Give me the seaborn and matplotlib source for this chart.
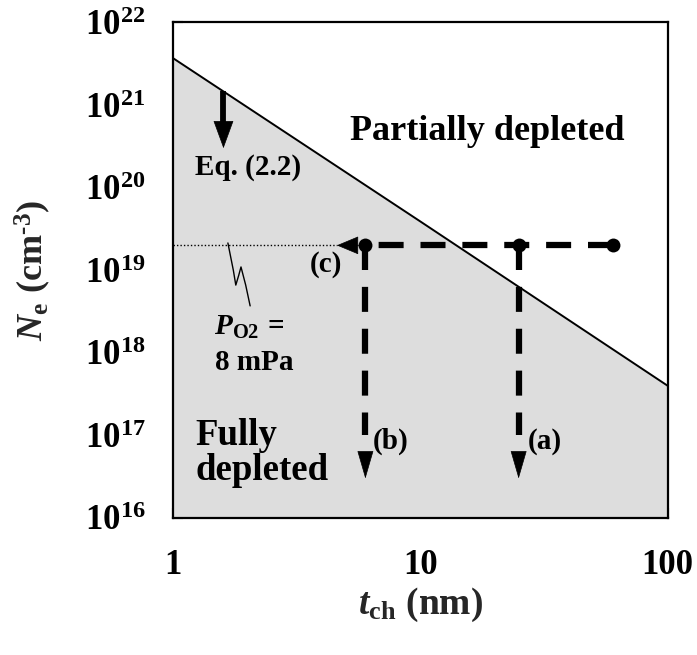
import matplotlib
matplotlib.use("Agg")
import matplotlib.pyplot as plt
import seaborn as sns
import numpy as np

# Boundary between fully and partially depleted channels, Eq. (2.2)
t_boundary = [1.0, 10.0, 100.0]          # channel thickness (nm)
ne_boundary = [3.7e21, 3.9e19, 4.0e17]   # carrier density (cm^-3)

# Carrier density at P_O2 = 8 mPa and the channel thicknesses examined
ne_level = 2e19
t_points = [6.0, 25.0, 60.0]
t_arrow_tip = 4.6          # end of arrow (c)
ne_arrow_tip = 3.0e16      # end of arrows (a) and (b)
ne_dash_end = 1.0e17
ne_head_base = 6.0e16
t_eq = 1.6                 # position of the Eq. (2.2) arrow
ne_eq_tip = 3.0e20
ne_eq_head_base = 6.2e20

x_ticks = [1, 10, 100]
x_ticklabels = ["1", "10", "100"]
y_ticks = [1e16, 1e17, 1e18, 1e19, 1e20, 1e21, 1e22]
y_ticklabels = [r"$\mathbf{10^{%d}}$" % e for e in range(16, 23)]

sns.set_style("ticks")
plt.rcParams["font.family"] = ["Liberation Serif", "DejaVu Serif"]
plt.rcParams["font.weight"] = "bold"
plt.rcParams["mathtext.fontset"] = "custom"
plt.rcParams["mathtext.rm"] = "Liberation Serif:bold"
plt.rcParams["mathtext.bf"] = "Liberation Serif:bold"
plt.rcParams["mathtext.it"] = "Liberation Serif:italic:bold"
plt.rcParams["mathtext.bfit"] = "Liberation Serif:italic:bold"

fig = plt.figure(figsize=(6.97, 6.55), dpi=100)
ax = fig.add_axes([0.2482, 0.2092, 0.7095, 0.7565])
ax.set_xscale("log")
ax.set_yscale("log")

# shaded fully-depleted region and its boundary
ax.fill_between(t_boundary, ne_boundary, 1e16, color="#dddddd", lw=0, zorder=1)
sns.lineplot(x=t_boundary, y=ne_boundary, color="black", lw=1.4, ax=ax,
             zorder=3, legend=False)

# dotted reference level up to arrow (c)
ax.plot([1.0, t_arrow_tip], [ne_level, ne_level], color="black", lw=1.0,
        ls=(0, (1, 1.5)), zorder=4)

lw_dash = 4.5
dash_pat = (0, (4.0, 2.7))
head = dict(color="black", lw=0.5, shrinkA=0, shrinkB=0, mutation_scale=20)
# horizontal dashed path from the thickest channel to the thinnest
ax.plot([t_points[-1], t_points[0]], [ne_level, ne_level], color="black",
        lw=lw_dash, ls=dash_pat, dash_capstyle="butt", zorder=5)
# vertical dashed drops (b) and (a)
for tp in t_points[:2]:
    ax.plot([tp, tp], [ne_level, ne_dash_end], color="black", lw=lw_dash,
            ls=dash_pat, dash_capstyle="butt", zorder=5)
    ax.annotate("", xy=(tp, ne_arrow_tip), xytext=(tp, ne_head_base),
                arrowprops=dict(arrowstyle="-|>,head_length=0.93,head_width=0.27",
                                **head), zorder=6)
sns.scatterplot(x=t_points, y=[ne_level] * len(t_points), color="black",
                s=100, edgecolor="black", linewidth=0, ax=ax, zorder=7,
                legend=False)
# arrow (c)
ax.annotate("", xy=(t_arrow_tip, ne_level), xytext=(t_points[0], ne_level),
            arrowprops=dict(arrowstyle="-|>,head_length=0.72,head_width=0.3",
                            **head), zorder=6)

# Eq. (2.2) arrow: shaft from the boundary line, then a filled head
ne_eq_start = 10 ** np.interp(np.log10(t_eq), np.log10(t_boundary),
                              np.log10(ne_boundary))
ax.plot([t_eq, t_eq], [ne_eq_start, ne_eq_head_base], color="black", lw=4.2,
        solid_capstyle="butt", zorder=6)
ax.annotate("", xy=(t_eq, ne_eq_tip), xytext=(t_eq, ne_eq_head_base),
            arrowprops=dict(arrowstyle="-|>,head_length=0.93,head_width=0.34",
                            **head), zorder=6)

# leader line for the P_O2 label
ax.plot([0.111, 0.122, 0.127, 0.133, 0.1375, 0.147, 0.156],
        [0.555, 0.500, 0.470, 0.490, 0.5066, 0.470, 0.428],
        transform=ax.transAxes, color="black", lw=1.0, zorder=4)

txt = dict(transform=ax.transAxes, va="baseline", ha="left", color="black",
           fontweight="bold", zorder=8)
ax.text(0.358, 0.763, "Partially depleted", fontsize=26, **txt)
ax.text(0.0445, 0.147, "Fully", fontsize=26.5, **txt)
ax.text(0.0445, 0.0767, "depleted", fontsize=26.5, **txt)
ax.text(0.0445, 0.692, "Eq. (2.2)", fontsize=21, **txt)
ax.text(0.277, 0.4965, "(c)", fontsize=21, **txt)
ax.text(0.4045, 0.139, "(b)", fontsize=21, **txt)
ax.text(0.718, 0.139, "(a)", fontsize=21, **txt)
ax.text(0.083, 0.369, r"$\mathbfit{P}_{\mathbf{O2}}\mathbf{\,=}$", fontsize=21, **txt)
ax.text(0.085, 0.2987, "8 mPa", fontsize=21, **txt)

ax.set_xlim(1, 100)
ax.set_ylim(1e16, 1e22)
ax.set_xticks(x_ticks)
ax.set_xticklabels(x_ticklabels)
ax.set_yticks(y_ticks)
ax.set_yticklabels(y_ticklabels)
ax.minorticks_off()
ax.tick_params(axis="both", direction="in", length=7, width=1.5,
               labelsize=25, color="black", labelcolor="black")
ax.tick_params(axis="x", pad=22)
ax.tick_params(axis="y", pad=20)
for lab in ax.get_xticklabels():
    lab.set_fontweight("bold")
for sp in ax.spines.values():
    sp.set_linewidth(1.6)
    sp.set_color("black")
    sp.set_visible(True)

ax.set_xlabel(r"$\mathbfit{t}_{\mathbf{ch}}\ \mathbf{(nm)}$", fontsize=27)
ax.set_ylabel(r"$\mathbfit{N}_{\mathbf{e}}\ \mathbf{(cm^{\text{-}3})}$", fontsize=26)
ax.xaxis.set_label_coords(0.5, -0.137)
ax.yaxis.set_label_coords(-0.243, 0.5)

fig.savefig("out.png", dpi=100)
